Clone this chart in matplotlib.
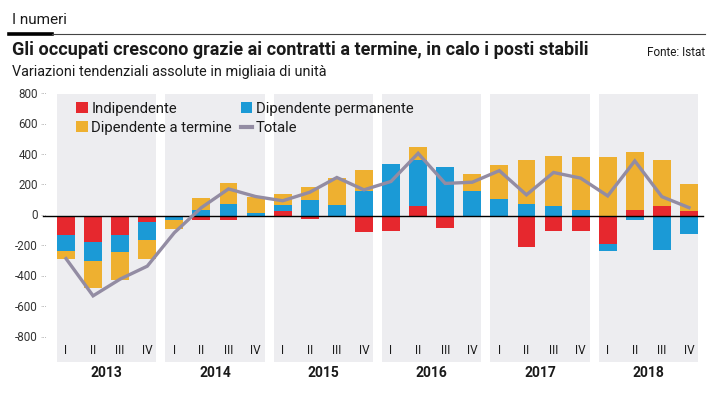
import matplotlib
matplotlib.use('Agg')
import matplotlib.pyplot as plt
from matplotlib import font_manager
from matplotlib.patches import Patch
from matplotlib.lines import Line2D
from matplotlib.transforms import blended_transform_factory
import numpy as np

years = ['2013', '2014', '2015', '2016', '2017', '2018']
quarters = ['I', 'II', 'III', 'IV']

indipendente = [-127, -173, -125, -37,
                0, -24, -24, 0,
                31, -18, 0, -107,
                -101, 68, -77, -9,
                -9, -206, -101, -101,
                -182, 42, 68, 31]
permanente = [-106, -123, -110, -121,
              -29, 42, 81, 22,
              39, 107, 70, 167,
              344, 298, 320, 162,
              114, 81, 68, 42,
              -51, -29, -222, -118]
termine = [-50, -176, -186, -127,
           -57, 79, 138, 103,
           77, 86, 178, 138,
           0, 86, 0, 112,
           219, 285, 329, 344,
           386, 377, 303, 182]
totale = [-280, -525, -415, -330,
          -110, 55, 178, 128,
          100, 156, 253, 172,
          227, 412, 214, 222,
          298, 139, 286, 249,
          132, 362, 127, 55]
yticks = [800, 600, 400, 200, 0, -200, -400, -600, -800]

names = set(font_manager.get_font_names())
cond = 'Liberation Sans Narrow' if 'Liberation Sans Narrow' in names else 'Roboto'
plt.rcParams['font.family'] = [cond, 'DejaVu Sans']

RED = '#e6282e'
BLUE = '#1b9ad6'
YEL = '#eeb030'
LINE = '#938ca3'
PANEL = '#ededf0'
TXT = '#1a1a1a'

W, H = 719, 394
fig = plt.figure(figsize=(W / 100, H / 100), dpi=100)
fig.patch.set_facecolor('white')

ax_left, ax_right = 52.45, 702.5
ax_top, ax_bot = 94.3, 362.0
ax = fig.add_axes([ax_left / W, 1 - ax_bot / H, (ax_right - ax_left) / W, (ax_bot - ax_top) / H])
ax.set_facecolor('none')
ax.set_xlim(-0.5, 23.5)
ax.set_ylim(-960, 800)
for s in ax.spines.values():
    s.set_visible(False)
ax.set_xticks([])
ax.set_yticks([])

x = np.arange(len(totale))
bw = 0.66
for i in range(len(years)):
    ax.axvspan(4 * i - bw / 2, 4 * i + 3 + bw / 2, color=PANEL, zorder=0, lw=0)

pos = np.zeros(len(x))
neg = np.zeros(len(x))
for vals, col in [(indipendente, RED), (permanente, BLUE), (termine, YEL)]:
    v = np.array(vals, dtype=float)
    bottom = np.where(v >= 0, pos, neg)
    ax.bar(x, v, bottom=bottom, width=bw, color=col, zorder=2, lw=0)
    pos = pos + np.where(v >= 0, v, 0)
    neg = neg + np.where(v < 0, v, 0)

ax.axhline(0, xmin=-0.0145, xmax=1.0, color='black', lw=1.0, zorder=3, clip_on=False)
ax.plot(x, totale, color=LINE, lw=2.4, zorder=4, solid_joinstyle='miter')

# y tick labels
tr_y = blended_transform_factory(fig.transFigure, ax.transData)
for t in yticks:
    ax.text(38 / W, t, f'{t}', transform=tr_y, ha='right', va='center', fontsize=8.4, color='#333333')
    ax.text(40 / W, t, '···', transform=tr_y, ha='left', va='center', fontsize=6, color='#888888')

# quarter labels
for i in range(len(x)):
    ax.text(x[i], -882, quarters[i % 4], ha='center', va='center', fontsize=8.5, color=TXT, zorder=3)

# year labels
tr_x = blended_transform_factory(ax.transData, fig.transFigure)
for i, yr in enumerate(years):
    ax.text(4 * i + 1.5, 1 - 373 / H, yr, transform=tr_x, ha='center', va='center',
            fontsize=10, fontweight='bold', color=TXT)

# legend
handles = [Patch(facecolor=RED, lw=0), Patch(facecolor=YEL, lw=0),
           Patch(facecolor=BLUE, lw=0), Line2D([], [], color=LINE, lw=3)]
labels = ['Indipendente', 'Dipendente a termine', 'Dipendente permanente', 'Totale']
leg = ax.legend(handles, labels, ncol=2, loc='upper left',
                bbox_to_anchor=((69 - ax_left) / (ax_right - ax_left), 1.0),
                frameon=False, fontsize=10.7, handlelength=0.75, handleheight=0.75,
                handletextpad=0.25, columnspacing=0.6, labelspacing=0.35, borderaxespad=0.1)
for t in leg.get_texts():
    t.set_color(TXT)

# header
fig.text(12 / W, 1 - 20 / H, 'I numeri', ha='left', va='center', fontsize=11, color=TXT)
fig.add_artist(Line2D([9 / W, 52 / W], [1 - 34 / H] * 2, lw=2.6, color='black'))
fig.add_artist(Line2D([52 / W, 705 / W], [1 - 34 / H] * 2, lw=0.8, color='#444444'))
fig.text(12 / W, 1 - 50 / H, 'Gli occupati crescono grazie ai contratti a termine, in calo i posti stabili',
         ha='left', va='center', fontsize=13.0, fontweight='bold', color=TXT)
fig.text(705 / W, 1 - 52 / H, 'Fonte: Istat', ha='right', va='center', fontsize=8.5, color=TXT)
fig.text(12 / W, 1 - 72 / H, 'Variazioni tendenziali assolute in migliaia di unità',
         ha='left', va='center', fontsize=10.4, color=TXT)

fig.savefig('out.png', dpi=100, facecolor='white')
